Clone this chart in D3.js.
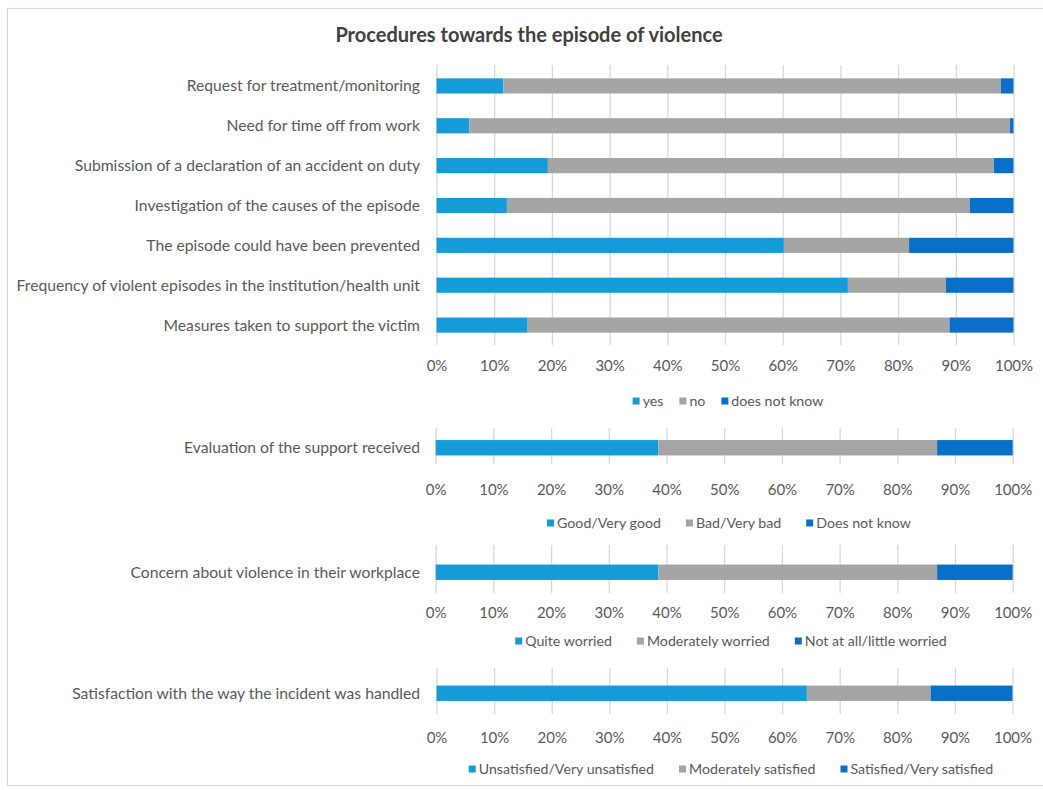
<!DOCTYPE html>
<html>
<head>
<meta charset="utf-8">
<script src="https://cdn.jsdelivr.net/npm/d3@7/dist/d3.min.js"></script>
<style>
  html, body { margin: 0; padding: 0; background: #fff; }
  svg { display: block; }
  text { font-family: Lato, "Open Sans", sans-serif; }
</style>
</head>
<body>
<svg id="chart" width="1043" height="790"></svg>
<script>
// Panel 1: procedures after the episode (yes / no / does not know)
const procCategories = [
  "Request for treatment/monitoring",
  "Need for time off from work",
  "Submission of a declaration of an accident on duty",
  "Investigation of the causes of the episode",
  "The episode could have been prevented",
  "Frequency of violent episodes in the institution/health unit",
  "Measures taken to support the victim"
];
const procSeries = ["yes", "no", "does not know"];
const procYes  = [11.6,  5.7, 19.3, 12.2, 60.2, 71.3, 15.8];
const procNo   = [86.2, 93.7, 77.3, 80.2, 21.7, 17.0, 73.1];
const procDnk  = [ 2.2,  0.6,  3.4,  7.6, 18.1, 11.7, 11.1];

// Panel 2: evaluation of support
const supportCategories = ["Evaluation of the support received"];
const supportSeries = ["Good/Very good", "Bad/Very bad", "Does not know"];
const supportValues = [38.6, 48.3, 13.1];

// Panel 3: concern about violence
const concernCategories = ["Concern about violence in their workplace"];
const concernSeries = ["Quite worried", "Moderately worried", "Not at all/little worried"];
const concernValues = [38.6, 48.3, 13.1];

// Panel 4: satisfaction with handling
const satisfCategories = ["Satisfaction with the way the incident was handled"];
const satisfSeries = ["Unsatisfied/Very unsatisfied", "Moderately satisfied", "Satisfied/Very satisfied"];
const satisfValues = [64.3, 21.5, 14.2];

const tickValues = [0, 10, 20, 30, 40, 50, 60, 70, 80, 90, 100];

const colors = ["#159bd7", "#a5a5a5", "#0a6fc8"];
const textColor = "#595959";
const gridColor = "#d9d9d9";

const svg = d3.select("#chart");

// outer frame
svg.append("rect")
  .attr("x", 7.5).attr("y", 8.5)
  .attr("width", 1045).attr("height", 777)
  .attr("fill", "none").attr("stroke", "#d9d9d9").attr("stroke-width", 1.2);

svg.append("text")
  .attr("x", 529).attr("y", 42)
  .attr("text-anchor", "middle")
  .attr("font-size", 20).attr("font-weight", "bold")
  .attr("fill", "#404040")
  .text("Procedures towards the episode of violence");

function drawPanel(cfg) {
  const { categories, seriesNames, rows, x0, x1, gridTop, gridBottom, barTop, barBottom,
          labelY, legendY, legendCx, legendGap } = cfg;

  const x = d3.scaleLinear().domain([0, 100]).range([x0, x1]);
  const y = d3.scaleBand().domain(categories).range([barTop, barBottom]).paddingInner(0.62).paddingOuter(0.31);

  const g = svg.append("g");

  // gridlines + tick labels
  const axis = d3.axisBottom(x)
    .tickValues(tickValues)
    .tickFormat(d => d + "%")
    .tickSize(-(gridBottom - gridTop))
    .tickPadding(labelY - gridBottom - 5);
  const ax = g.append("g")
    .attr("transform", `translate(0,${gridBottom})`)
    .call(axis);
  ax.select(".domain").remove();
  ax.selectAll(".tick line").attr("stroke", gridColor).attr("stroke-width", 1.3);
  ax.selectAll(".tick text")
    .attr("font-size", 15).attr("fill", textColor)
    .style("font-family", "Lato, 'Open Sans', sans-serif");

  // stacked bars
  const keys = seriesNames;
  const data = categories.map((c, i) => {
    const o = { cat: c };
    keys.forEach((k, j) => { o[k] = rows[j][i]; });
    return o;
  });
  const stacked = d3.stack().keys(keys)(data);

  g.selectAll("g.series")
    .data(stacked)
    .join("g")
    .attr("class", "series")
    .attr("fill", (d, i) => colors[i])
    .selectAll("rect")
    .data(d => d)
    .join("rect")
    .attr("x", d => x(d[0]))
    .attr("width", d => x(d[1]) - x(d[0]))
    .attr("y", d => y(d.data.cat))
    .attr("height", y.bandwidth());

  // category labels
  g.selectAll("text.cat")
    .data(categories)
    .join("text")
    .attr("class", "cat")
    .attr("x", 420)
    .attr("y", d => y(d) + y.bandwidth() / 2)
    .attr("dy", "0.35em")
    .attr("text-anchor", "end")
    .attr("font-size", 15.7)
    .attr("fill", textColor)
    .text(d => d);

  // legend
  const lg = g.append("g");
  const items = lg.selectAll("g.item").data(keys).join("g").attr("class", "item");
  items.append("rect")
    .attr("width", 7).attr("height", 7)
    .attr("y", legendY - 3.5)
    .attr("fill", (d, i) => colors[i]);
  const labels = items.append("text")
    .attr("y", legendY)
    .attr("dy", "0.35em")
    .attr("font-size", 14.2)
    .attr("fill", textColor)
    .text(d => d);
  const widths = [];
  labels.each(function () { widths.push(this.getComputedTextLength()); });
  const sq = 7, sqGap = 3;
  const total = d3.sum(widths) + keys.length * (sq + sqGap) + (keys.length - 1) * legendGap;
  let cx = legendCx - total / 2;
  items.each(function (d, i) {
    d3.select(this).attr("transform", `translate(${cx},0)`);
    d3.select(this).select("text").attr("x", sq + sqGap);
    cx += sq + sqGap + widths[i] + legendGap;
  });
}

drawPanel({
  categories: procCategories, seriesNames: procSeries,
  rows: [procYes, procNo, procDnk],
  x0: 436.5, x1: 1013.5,
  gridTop: 65, gridBottom: 345,
  barTop: 66, barBottom: 345,
  labelY: 365, legendY: 401, legendCx: 728, legendGap: 16
});

drawPanel({
  categories: supportCategories, seriesNames: supportSeries,
  rows: supportValues.map(v => [v]),
  x0: 435.7, x1: 1012.7,
  gridTop: 428, gridBottom: 464,
  barTop: 427.5, barBottom: 468,
  labelY: 489, legendY: 523, legendCx: 729, legendGap: 25
});

drawPanel({
  categories: concernCategories, seriesNames: concernSeries,
  rows: concernValues.map(v => [v]),
  x0: 435.7, x1: 1012.7,
  gridTop: 545, gridBottom: 593,
  barTop: 552, barBottom: 592.5,
  labelY: 612, legendY: 641, legendCx: 731, legendGap: 25
});

drawPanel({
  categories: satisfCategories, seriesNames: satisfSeries,
  rows: satisfValues.map(v => [v]),
  x0: 436.5, x1: 1012.5,
  gridTop: 668, gridBottom: 714,
  barTop: 673, barBottom: 713.5,
  labelY: 737, legendY: 769, legendCx: 731, legendGap: 25
});
</script>
</body>
</html>
